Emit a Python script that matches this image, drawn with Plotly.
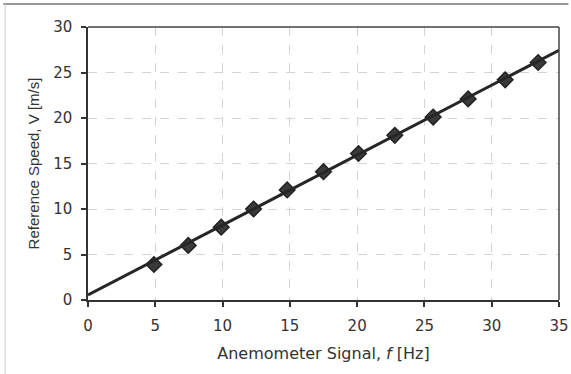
import plotly.graph_objects as go

signal_hz = [4.9, 7.45, 9.9, 12.3, 14.8, 17.5, 20.1, 22.8, 25.65, 28.25, 31.0, 33.45]
ref_speed = [3.9, 6.0, 8.0, 10.0, 12.1, 14.1, 16.1, 18.1, 20.1, 22.1, 24.2, 26.1]
fit_x = [0, 35]
fit_y = [0.55, 27.45]
x_ticks = [0, 5, 10, 15, 20, 25, 30, 35]
y_ticks = [0, 5, 10, 15, 20, 25, 30]

fig = go.Figure()
fig.add_trace(go.Scatter(x=signal_hz, y=ref_speed, mode="markers",
                         marker=dict(symbol="diamond", size=12, color="#3a3a3a",
                                     line=dict(color="#222", width=1.5)),
                         showlegend=False, cliponaxis=False))
fig.add_trace(go.Scatter(x=fit_x, y=fit_y, mode="lines",
                         line=dict(color="#262626", width=3), showlegend=False))

axis_common = dict(showline=True, linecolor="#333", linewidth=1.5, mirror=False,
                   ticks="outside", ticklen=5, tickcolor="#333", tickwidth=1.5,
                   showgrid=True, gridcolor="#d4d4d4", griddash="dash", gridwidth=1,
                   zeroline=False, automargin=False, ticklabelstandoff=6,
                   tickfont=dict(size=15, color="#333", family="DejaVu Sans, sans-serif"))

fig.update_xaxes(range=[0, 35], tickvals=x_ticks, **axis_common,
                 title=dict(text="Anemometer Signal, <i>f</i> [Hz]",
                            font=dict(size=16, color="#333", family="DejaVu Sans, sans-serif"),
                            standoff=14))
fig.update_yaxes(range=[0, 30], tickvals=y_ticks, **axis_common,
                 title=dict(text="Reference Speed, V [m/s]",
                            font=dict(size=15, color="#333", family="Liberation Sans, Arial, sans-serif"),
                            standoff=10))

# plot box (top and right edges)
fig.add_shape(type="line", xref="paper", yref="paper", x0=0, x1=1, y0=1, y1=1,
              line=dict(color="#444", width=1.5))
fig.add_shape(type="line", xref="paper", yref="paper", x0=1, x1=1, y0=0, y1=1,
              line=dict(color="#444", width=1.5))
# outer chart frame
fig.add_shape(type="line", xref="paper", yref="paper", x0=-0.18, x1=1.02, y0=1.084, y1=1.084,
              line=dict(color="#777", width=1.5))
fig.add_shape(type="line", xref="paper", yref="paper", x0=-0.176, x1=-0.176, y0=-0.3, y1=1.084,
              line=dict(color="#ccc", width=1))

fig.update_layout(width=571, height=374, margin=dict(l=88, r=12, t=27, b=74),
                  paper_bgcolor="white", plot_bgcolor="white",
                  font=dict(family="Liberation Sans, Arial, sans-serif", color="#333"))

fig.write_html("out.html", config={"displayModeBar": False},
               post_script="document.body.style.margin='0';document.body.style.overflow='hidden';")
